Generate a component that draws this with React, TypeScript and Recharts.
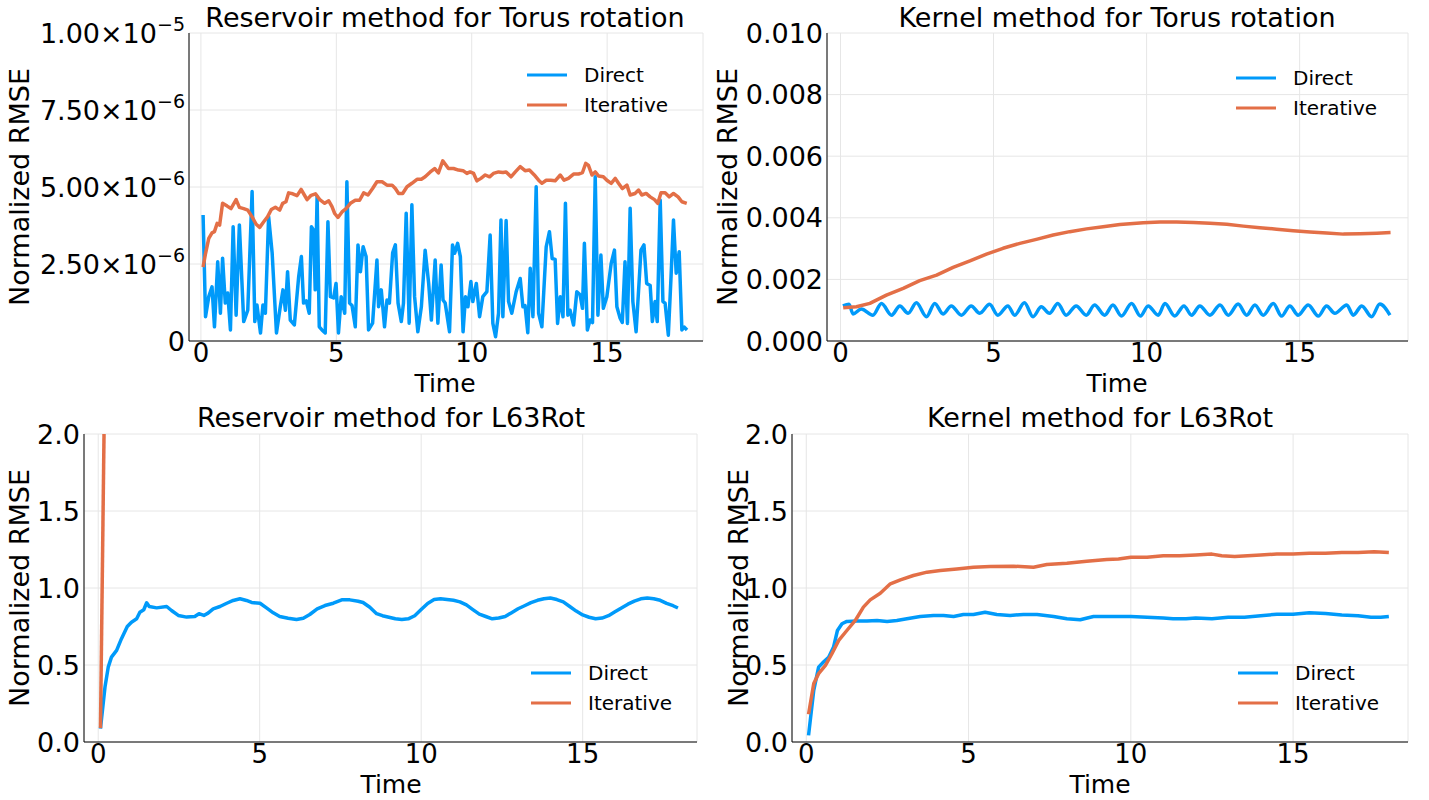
import React from 'react';
import { LineChart, Line, XAxis, YAxis, CartesianGrid, Legend } from 'recharts';

const FONT = '"DejaVu Sans", sans-serif';
const BLUE = '#009AFA';
const ORANGE = '#E36F47';
const GRID = '#e6e6e6';
const SERIES_NAMES = ['Direct', 'Iterative'];
const TIME_TICKS = [0, 5, 10, 15];
const TIME_DOMAIN: [number, number] = [-0.44, 18.54];
const TITLES = [
  'Reservoir method for Torus rotation',
  'Kernel method for Torus rotation',
  'Reservoir method for L63Rot',
  'Kernel method for L63Rot',
];
const X_LABEL = 'Time';
const Y_LABEL = 'Normalized RMSE';

// ---------- Panel 1: Reservoir / Torus (values in units of 1e-6) ----------
const TL_SCALE = 1e-6;
const TL_Y_TICKS = [0, 2.5e-6, 5e-6, 7.5e-6, 1e-5];
const TL_Y_TICK_LABELS = ['0', '2.50×10', '5.00×10', '7.50×10', '1.00×10'];
const TL_Y_TICK_EXPONENTS = ['', '−6', '−6', '−6', '−5'];

const tlDirectT = [
  0.08, 0.17, 0.29, 0.41, 0.50, 0.62, 0.72, 0.80, 0.90, 0.99,
  1.09, 1.19, 1.30, 1.42, 1.58, 1.73, 1.89, 1.99, 2.07, 2.20,
  2.29, 2.38, 2.50, 2.63, 2.79, 2.93, 3.03, 3.12, 3.20, 3.30,
  3.45, 3.61, 3.71, 3.79, 3.89, 4.00, 4.08, 4.16, 4.22, 4.29,
  4.37, 4.47, 4.59, 4.69, 4.78, 4.90, 4.99, 5.08, 5.18, 5.31,
  5.39, 5.49, 5.58, 5.70, 5.80, 5.89, 5.99, 6.10, 6.19, 6.34,
  6.50, 6.56, 6.66, 6.78, 6.87, 6.96, 7.08, 7.18, 7.28, 7.40,
  7.48, 7.58, 7.69, 7.79, 7.89, 8.01, 8.14, 8.28, 8.41, 8.51,
  8.65, 8.75, 8.87, 8.94, 9.02, 9.18, 9.29, 9.37, 9.48, 9.58,
  9.68, 9.77, 9.86, 9.97, 10.04, 10.17, 10.29, 10.41, 10.56, 10.68,
  10.78, 10.88, 10.99, 11.08, 11.15, 11.27, 11.36, 11.48, 11.64, 11.79,
  11.89, 11.97, 12.07, 12.16, 12.26, 12.38, 12.47, 12.59, 12.75, 12.87,
  12.97, 13.08, 13.17, 13.27, 13.37, 13.46, 13.55, 13.63, 13.76, 13.88,
  14.00, 14.09, 14.16, 14.27, 14.37, 14.46, 14.56, 14.66, 14.77, 14.86,
  14.99, 15.15, 15.27, 15.36, 15.48, 15.56, 15.66, 15.75, 15.85, 15.95,
  16.07, 16.25, 16.36, 16.46, 16.59, 16.67, 16.77, 16.85, 16.96, 17.06,
  17.14, 17.26, 17.36, 17.45, 17.55, 17.66, 17.76, 17.85, 17.95,
];
const tlDirectV = [
  4.09, 0.79, 1.44, 1.76, 0.46, 2.57, 0.90, 2.69, 1.23, 1.56,
  0.36, 3.71, 0.84, 3.77, 0.63, 1.00, 4.85, 0.63, 1.17, 0.26,
  1.17, 0.90, 4.04, 2.86, 0.26, 1.11, 1.66, 1.00, 2.25, 0.68,
  0.52, 2.09, 2.74, 1.23, 1.30, 0.90, 3.71, 3.60, 1.66, 4.69,
  0.46, 0.36, 0.26, 3.87, 1.44, 1.40, 1.87, 0.26, 1.44, 0.90,
  5.17, 1.23, 1.15, 0.46, 3.12, 2.25, 3.06, 2.74, 0.36, 0.58,
  2.63, 1.11, 1.66, 0.46, 1.33, 1.23, 2.86, 3.12, 1.23, 0.63,
  1.23, 4.15, 0.58, 4.42, 1.44, 0.30, 1.11, 2.95, 1.87, 0.68,
  2.63, 0.58, 2.47, 1.33, 1.23, 0.30, 3.12, 2.85, 3.17, 2.74,
  0.30, 1.44, 1.11, 1.93, 1.28, 1.87, 0.79, 1.44, 1.60, 3.44,
  0.57, 0.14, 0.90, 3.93, 0.79, 3.91, 1.28, 0.90, 1.60, 2.03,
  1.11, 1.15, 0.27, 2.36, 0.79, 5.01, 0.90, 0.46, 3.06, 3.55,
  2.68, 2.65, 0.57, 1.44, 0.79, 4.47, 0.84, 1.00, 0.52, 1.60,
  1.50, 1.06, 3.17, 0.36, 0.68, 0.60, 5.33, 0.84, 2.79, 1.06,
  1.44, 2.52, 2.95, 1.11, 0.74, 0.60, 2.57, 0.57, 4.31, 1.28,
  0.30, 2.95, 3.12, 1.87, 1.80, 0.63, 1.28, 0.63, 4.58, 1.28,
  1.23, 0.19, 2.09, 3.93, 2.20, 2.90, 0.36, 0.45, 0.36,
];
const tlIterT = [
  0.08, 0.17, 0.29, 0.41, 0.50, 0.60, 0.69, 0.80, 0.97, 1.11,
  1.30, 1.42, 1.58, 1.73, 1.89, 2.04, 2.17, 2.32, 2.46, 2.60,
  2.75, 2.91, 3.02, 3.14, 3.24, 3.39, 3.55, 3.70, 3.82, 3.92,
  4.07, 4.23, 4.40, 4.57, 4.72, 4.84, 4.94, 5.06, 5.21, 5.36,
  5.52, 5.70, 5.86, 6.01, 6.17, 6.34, 6.50, 6.69, 6.87, 7.06,
  7.18, 7.30, 7.45, 7.61, 7.79, 7.98, 8.14, 8.28, 8.47, 8.63,
  8.77, 8.93, 9.14, 9.33, 9.51, 9.68, 9.82, 9.94, 10.07, 10.19,
  10.34, 10.50, 10.66, 10.80, 10.99, 11.15, 11.27, 11.45, 11.61, 11.79,
  11.97, 12.13, 12.31, 12.47, 12.59, 12.75, 12.92, 13.08, 13.27, 13.41,
  13.57, 13.76, 13.94, 14.09, 14.21, 14.31, 14.44, 14.56, 14.68, 14.86,
  14.99, 15.15, 15.30, 15.42, 15.56, 15.73, 15.85, 16.03, 16.16, 16.28,
  16.44, 16.59, 16.75, 16.87, 16.99, 17.14, 17.29, 17.45, 17.62, 17.76,
  17.94,
];
const tlIterV = [
  2.40, 2.84, 3.33, 3.51, 3.55, 3.82, 3.76, 4.47, 4.38, 4.30,
  4.59, 4.34, 4.30, 4.25, 4.03, 3.79, 3.69, 3.87, 4.03, 4.27,
  4.34, 4.25, 4.47, 4.52, 4.81, 4.78, 4.72, 4.92, 4.74, 4.59,
  4.73, 4.78, 4.58, 4.47, 4.55, 4.36, 4.14, 4.01, 4.19, 4.30,
  4.47, 4.57, 4.57, 4.81, 4.74, 4.95, 5.17, 5.17, 5.06, 5.06,
  4.95, 4.79, 4.79, 5.01, 5.12, 5.25, 5.25, 5.33, 5.49, 5.60,
  5.46, 5.85, 5.60, 5.60, 5.55, 5.53, 5.44, 5.49, 5.44, 5.20,
  5.28, 5.39, 5.33, 5.44, 5.49, 5.47, 5.49, 5.33, 5.49, 5.66,
  5.53, 5.55, 5.39, 5.22, 5.12, 5.22, 5.22, 5.20, 5.39, 5.22,
  5.28, 5.42, 5.42, 5.47, 5.77, 5.70, 5.39, 5.49, 5.36, 5.33,
  5.22, 5.12, 5.28, 5.12, 4.95, 5.06, 4.74, 4.79, 4.90, 4.74,
  4.79, 4.68, 4.59, 4.47, 4.81, 4.81, 4.68, 4.79, 4.68, 4.52,
  4.47,
];

// ---------- Panel 2: Kernel / Torus (values in units of 1e-3) ----------
const TR_SCALE = 1e-3;
const TR_Y_TICKS = [0, 0.002, 0.004, 0.006, 0.008, 0.01];
const TR_Y_TICK_LABELS = ['0.000', '0.002', '0.004', '0.006', '0.008', '0.010'];
const trDirectT = [
  0.08, 0.28, 0.41, 0.68, 1.06, 1.34, 1.67, 1.94, 2.21, 2.48,
  2.81, 3.08, 3.35, 3.62, 3.95, 4.27, 4.55, 4.87, 5.14, 5.47,
  5.69, 6.01, 6.29, 6.56, 6.83, 7.10, 7.37, 7.70, 8.03, 8.30,
  8.63, 8.90, 9.18, 9.51, 9.80, 10.05, 10.38, 10.60, 10.92, 11.22,
  11.47, 11.74, 12.07, 12.40, 12.67, 12.99, 13.27, 13.54, 13.81, 14.14,
  14.41, 14.68, 14.95, 15.28, 15.61, 15.88, 16.15, 16.54, 16.75, 17.03,
  17.35, 17.62, 17.95,
];
const trDirectV = [
  1.14, 1.19, 0.88, 1.04, 0.84, 1.22, 0.84, 1.14, 0.90, 1.24,
  0.79, 1.22, 0.88, 1.14, 0.84, 1.14, 0.90, 1.19, 0.84, 1.14,
  0.84, 1.24, 0.79, 1.11, 0.90, 1.22, 0.84, 1.14, 0.84, 1.17,
  0.84, 1.17, 0.81, 1.22, 0.81, 1.14, 0.84, 1.22, 0.81, 1.14,
  0.84, 1.14, 0.84, 1.17, 0.84, 1.20, 0.84, 1.17, 0.84, 1.22,
  0.81, 1.14, 0.84, 1.17, 0.81, 1.14, 0.90, 1.17, 0.84, 1.14,
  0.79, 1.20, 0.84,
];
const trIterT = [
  0.09, 0.52, 0.96, 1.50, 2.05, 2.59, 3.14, 3.68, 4.23, 4.77,
  5.31, 5.86, 6.40, 6.95, 7.49, 8.04, 8.58, 9.13, 9.89, 10.44,
  10.98, 11.53, 12.07, 12.62, 13.16, 13.70, 14.25, 14.79, 15.34, 15.88,
  16.43, 16.97, 17.52, 17.97,
];
const trIterV = [
  1.08, 1.11, 1.22, 1.49, 1.71, 1.96, 2.14, 2.39, 2.60, 2.82,
  3.01, 3.17, 3.30, 3.44, 3.55, 3.64, 3.71, 3.78, 3.84, 3.86,
  3.86, 3.85, 3.82, 3.79, 3.73, 3.68, 3.63, 3.58, 3.54, 3.51,
  3.47, 3.48, 3.50, 3.52,
];

// ---------- Panels 3 & 4: L63Rot ----------
const L63_Y_TICKS = [0, 0.5, 1, 1.5, 2];
const L63_Y_TICK_LABELS = ['0.0', '0.5', '1.0', '1.5', '2.0'];

const blDirectT = [
  0.07, 0.21, 0.31, 0.41, 0.57, 0.72, 0.90, 1.03, 1.19, 1.29,
  1.41, 1.50, 1.58, 1.81, 2.12, 2.27, 2.48, 2.74, 2.99, 3.12,
  3.27, 3.40, 3.56, 3.77, 3.98, 4.18, 4.39, 4.59, 4.75, 5.01,
  5.21, 5.42, 5.62, 5.88, 6.14, 6.35, 6.55, 6.78, 7.02, 7.28,
  7.54, 7.79, 8.05, 8.20, 8.41, 8.62, 8.8, 9.0, 9.2, 9.4,
  9.6, 9.8, 10.0, 10.2, 10.4, 10.6, 10.8, 11.0, 11.2, 11.4,
  11.6, 11.8, 12.0, 12.2, 12.4, 12.6, 12.8, 13.0, 13.2, 13.4,
  13.6, 13.8, 14.0, 14.2, 14.4, 14.6, 14.8, 15.0, 15.2, 15.4,
  15.6, 15.8, 16.0, 16.2, 16.4, 16.6, 16.8, 17.0, 17.2, 17.4,
  17.6, 17.8, 17.95,
];
const blDirectV = [
  0.087, 0.357, 0.486, 0.551, 0.595, 0.671, 0.750, 0.778, 0.800, 0.843,
  0.859, 0.904, 0.880, 0.871, 0.880, 0.854, 0.822, 0.811, 0.815, 0.833,
  0.822, 0.837, 0.865, 0.880, 0.901, 0.919, 0.930, 0.919, 0.906, 0.901,
  0.871, 0.839, 0.815, 0.804, 0.796, 0.804, 0.828, 0.865, 0.886, 0.901,
  0.923, 0.923, 0.914, 0.906, 0.875, 0.833, 0.82, 0.81, 0.80, 0.795,
  0.80, 0.82, 0.86, 0.90, 0.925, 0.93, 0.925, 0.92, 0.91, 0.89,
  0.86, 0.83, 0.815, 0.80, 0.805, 0.815, 0.84, 0.865, 0.885, 0.905,
  0.92, 0.93, 0.935, 0.925, 0.91, 0.88, 0.85, 0.825, 0.81, 0.80,
  0.805, 0.82, 0.845, 0.87, 0.895, 0.915, 0.93, 0.935, 0.93, 0.92,
  0.90, 0.885, 0.87,
];
const blIterT = [0.07, 0.2];
const blIterV = [0.09, 2.35];

const brDirectT = [
  0.07, 0.23, 0.38, 0.53, 0.69, 0.84, 0.96, 1.10, 1.25, 1.56,
  1.87, 2.18, 2.49, 2.79, 3.10, 3.51, 3.92, 4.23, 4.54, 4.84,
  5.15, 5.51, 5.87, 6.28, 6.69, 7.11, 7.62, 8.03, 8.44, 8.85,
  9.26, 9.67, 10.0, 10.5, 11.0, 11.3, 11.7, 12.0, 12.5, 13.0,
  13.5, 14.0, 14.5, 15.0, 15.5, 16.0, 16.5, 17.0, 17.4, 17.7,
  17.95,
];
const brDirectV = [
  0.043, 0.335, 0.486, 0.519, 0.551, 0.616, 0.724, 0.768, 0.783, 0.785,
  0.785, 0.789, 0.783, 0.789, 0.800, 0.815, 0.822, 0.822, 0.815, 0.828,
  0.828, 0.843, 0.828, 0.822, 0.828, 0.828, 0.815, 0.800, 0.794, 0.815,
  0.815, 0.815, 0.815, 0.81, 0.805, 0.80, 0.80, 0.805, 0.80, 0.81,
  0.81, 0.82, 0.83, 0.83, 0.84, 0.835, 0.825, 0.82, 0.81, 0.81,
  0.815,
];
const brIterT = [
  0.07, 0.23, 0.38, 0.59, 0.79, 1.00, 1.25, 1.51, 1.76, 1.97,
  2.28, 2.59, 2.90, 3.30, 3.72, 4.13, 4.64, 5.15, 5.67, 6.38,
  7.00, 7.41, 8.03, 8.64, 9.26, 9.62, 10.0, 10.5, 11.0, 11.5,
  12.0, 12.5, 12.8, 13.2, 13.6, 14.0, 14.5, 15.0, 15.5, 16.0,
  16.5, 17.0, 17.5, 17.95,
];
const brIterV = [
  0.180, 0.379, 0.444, 0.497, 0.573, 0.660, 0.724, 0.789, 0.876, 0.923,
  0.966, 1.027, 1.053, 1.081, 1.103, 1.113, 1.124, 1.135, 1.139, 1.142,
  1.135, 1.152, 1.161, 1.174, 1.185, 1.189, 1.20, 1.20, 1.21, 1.21,
  1.215, 1.22, 1.21, 1.205, 1.21, 1.215, 1.22, 1.22, 1.225, 1.225,
  1.23, 1.23, 1.235, 1.23,
];

const toRows = (t: number[], v: number[], scale = 1) =>
  t.map((time, i) => ({ t: time, v: v[i] * scale }));

const TICK_FONT = 27;
const X_TICK_FONT = 26;
const TITLE_FONT = 27;
const GUIDE_FONT = 27;
const TIME_FONT = 25;

const LegendBox = (props: any) => {
  const items = props.payload || [];
  return (
    <div style={{ fontFamily: FONT, fontSize: 20, color: '#000' }}>
      {items.map((it: any) => (
        <div key={it.value} style={{ display: 'flex', alignItems: 'center', height: 30 }}>
          <svg width={40} height={30} style={{ display: 'block' }}>
            <line x1={0} y1={15} x2={40} y2={15} stroke={it.color} strokeWidth={3} />
          </svg>
          <span style={{ marginLeft: 17, lineHeight: '30px', whiteSpace: 'nowrap' }}>{it.value}</span>
        </div>
      ))}
    </div>
  );
};

type PanelProps = {
  left: number; top: number; width: number; height: number;
  plotLeft: number; plotTop: number; plotRight: number; plotBottom: number;
  yDomain: [number, number]; yTicks: number[];
  yTick: any;
  direct: any[]; iterative: any[];
  legendLeft: number; legendTop: number;
  directCurve?: any;
};

const Panel = (p: PanelProps) => (
  <div style={{ position: 'absolute', left: p.left, top: p.top, width: p.width, height: p.height }}>
    <LineChart
      width={p.width}
      height={p.height}
      margin={{ top: p.plotTop - p.top, right: p.left + p.width - p.plotRight, bottom: 0, left: 0 }}
    >
      <CartesianGrid stroke={GRID} strokeWidth={1} />
      <XAxis
        type="number"
        dataKey="t"
        domain={TIME_DOMAIN}
        ticks={TIME_TICKS}
        interval={0}
        allowDataOverflow
        height={p.top + p.height - p.plotBottom}
        tickLine={false}
        tickSize={0}
        tickMargin={3}
        axisLine={{ stroke: '#000', strokeWidth: 1 }}
        tick={{ fontSize: X_TICK_FONT, fill: '#000', fontFamily: FONT }}
      />
      <YAxis
        type="number"
        domain={p.yDomain}
        ticks={p.yTicks}
        interval={0}
        allowDataOverflow
        width={p.plotLeft - p.left}
        tickLine={false}
        tickSize={0}
        tickMargin={4}
        axisLine={{ stroke: '#000', strokeWidth: 1 }}
        tick={p.yTick}
      />
      <Line
        data={p.direct}
        dataKey="v"
        name={SERIES_NAMES[0]}
        type={p.directCurve || 'linear'}
        stroke={BLUE}
        strokeWidth={3.5}
        strokeLinejoin="round"
        dot={false}
        activeDot={false}
        isAnimationActive={false}
      />
      <Line
        data={p.iterative}
        dataKey="v"
        name={SERIES_NAMES[1]}
        type="linear"
        stroke={ORANGE}
        strokeWidth={3.5}
        strokeLinejoin="round"
        dot={false}
        activeDot={false}
        isAnimationActive={false}
      />
      <Legend
        layout="horizontal"
        verticalAlign="middle"
        align="center"
        wrapperStyle={{ left: p.legendLeft - p.left, top: p.legendTop - p.top, width: 'auto', height: 'auto' }}
        content={LegendBox}
      />
    </LineChart>
  </div>
);

const makeTextTick = (ticks: number[], labels: string[]) => (props: any) => {
  const { x, y, payload } = props;
  const idx = ticks.findIndex((v) => Math.abs(v - payload.value) < 1e-12);
  return (
    <text x={x} y={y} textAnchor="end" dy="0.355em" fontSize={TICK_FONT} fontFamily={FONT} fill="#000">
      {labels[idx]}
    </text>
  );
};

const tlTick = (props: any) => {
  const { x, y, payload } = props;
  const idx = TL_Y_TICKS.findIndex((v) => Math.abs(v - payload.value) < 1e-12);
  const exp = TL_Y_TICK_EXPONENTS[idx];
  return (
    <text x={x} y={y} textAnchor="end" dy="0.355em" fontSize={TICK_FONT} fontFamily={FONT} fill="#000">
      {TL_Y_TICK_LABELS[idx]}
      {exp ? (
        <tspan dy={-12} fontSize={19}>
          {exp}
        </tspan>
      ) : null}
    </text>
  );
};

const PANEL_TEXT = [
  { cx: 445, titleY: 27, labelY: 392, yLabelX: 19, yLabelY: 187 },
  { cx: 1117, titleY: 27, labelY: 392, yLabelX: 727, yLabelY: 187 },
  { cx: 391, titleY: 427, labelY: 793, yLabelX: 19, yLabelY: 588 },
  { cx: 1100, titleY: 427, labelY: 793, yLabelX: 738, yLabelY: 588 },
];

export default function App() {
  return (
    <div style={{ position: 'absolute', left: 0, top: 0, width: 1429, height: 800, background: '#fff', overflow: 'hidden' }}>
      <Panel
        left={0} top={0} width={714} height={400}
        plotLeft={189} plotTop={33} plotRight={703} plotBottom={341}
        yDomain={[0, 1e-5]} yTicks={TL_Y_TICKS} yTick={tlTick}
        direct={toRows(tlDirectT, tlDirectV, TL_SCALE)}
        iterative={toRows(tlIterT, tlIterV, TL_SCALE)}
        legendLeft={527} legendTop={60}
      />
      <Panel
        left={714} top={0} width={715} height={400}
        plotLeft={827} plotTop={33} plotRight={1408} plotBottom={341}
        yDomain={[0, 0.01]} yTicks={TR_Y_TICKS} yTick={makeTextTick(TR_Y_TICKS, TR_Y_TICK_LABELS)}
        direct={toRows(trDirectT, trDirectV, TR_SCALE)}
        iterative={toRows(trIterT, trIterV, TR_SCALE)}
        legendLeft={1236} legendTop={63}
        directCurve="monotone"
      />
      <Panel
        left={0} top={400} width={714} height={400}
        plotLeft={84} plotTop={434} plotRight={697} plotBottom={742}
        yDomain={[0, 2]} yTicks={L63_Y_TICKS} yTick={makeTextTick(L63_Y_TICKS, L63_Y_TICK_LABELS)}
        direct={toRows(blDirectT, blDirectV)}
        iterative={toRows(blIterT, blIterV)}
        legendLeft={531} legendTop={658}
      />
      <Panel
        left={714} top={400} width={715} height={400}
        plotLeft={792} plotTop={434} plotRight={1408} plotBottom={742}
        yDomain={[0, 2]} yTicks={L63_Y_TICKS} yTick={makeTextTick(L63_Y_TICKS, L63_Y_TICK_LABELS)}
        direct={toRows(brDirectT, brDirectV)}
        iterative={toRows(brIterT, brIterV)}
        legendLeft={1238} legendTop={658}
      />
      <svg
        width={1429}
        height={800}
        style={{ position: 'absolute', left: 0, top: 0, pointerEvents: 'none' }}
      >
        {PANEL_TEXT.map((pt, i) => (
          <g key={i} fontFamily={FONT} fill="#000">
            <text x={pt.cx} y={pt.titleY} textAnchor="middle" fontSize={TITLE_FONT}>
              {TITLES[i]}
            </text>
            <text x={pt.cx} y={pt.labelY} textAnchor="middle" fontSize={TIME_FONT}>
              {X_LABEL}
            </text>
            <text
              x={pt.yLabelX}
              y={pt.yLabelY}
              textAnchor="middle"
              dominantBaseline="central"
              fontSize={GUIDE_FONT}
              transform={`rotate(-90 ${pt.yLabelX} ${pt.yLabelY})`}
            >
              {Y_LABEL}
            </text>
          </g>
        ))}
      </svg>
    </div>
  );
}
